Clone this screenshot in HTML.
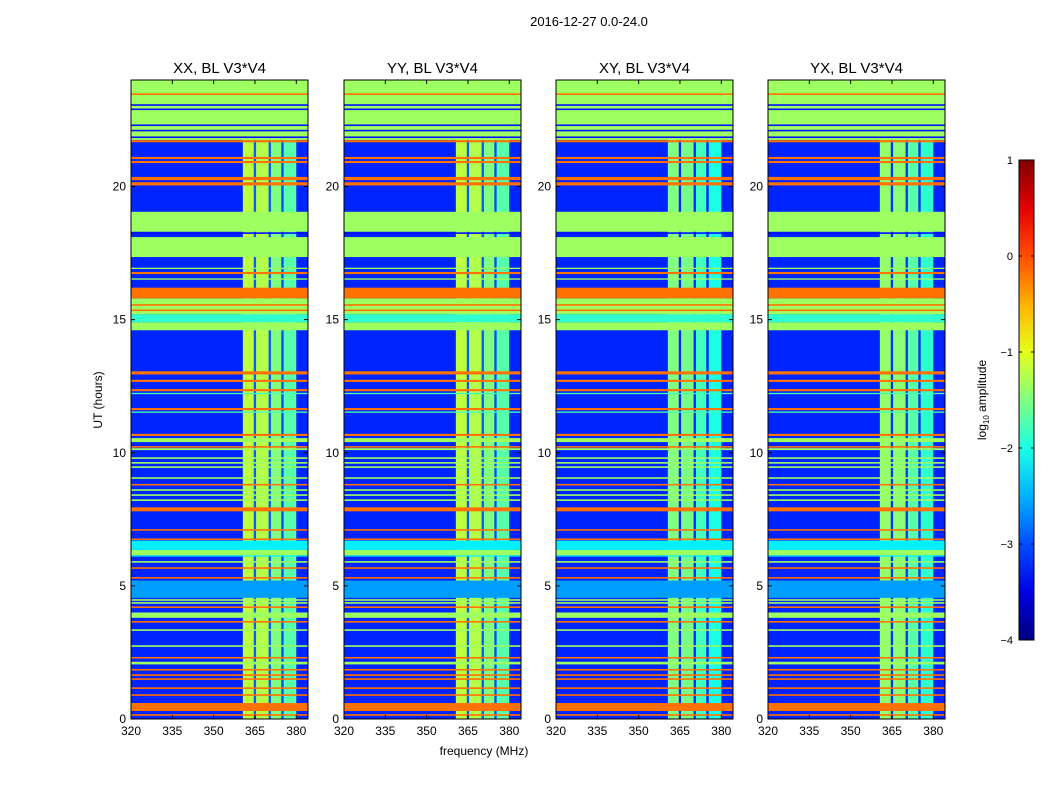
<!DOCTYPE html>
<html><head><meta charset="utf-8"><style>
body{margin:0;background:#fff;}
svg text{font-family:"Liberation Sans",sans-serif;}
</style></head><body>
<svg id="fig" width="1050" height="800" viewBox="0 0 1050 800" xmlns="http://www.w3.org/2000/svg">
<rect width="1050" height="800" fill="#fff"/>
<text x="589" y="26" font-size="13" text-anchor="middle">2016-12-27 0.0-24.0</text>
<text x="484" y="755" font-size="12" text-anchor="middle">frequency (MHz)</text>
<text transform="translate(102,400) rotate(-90)" font-size="12" text-anchor="middle">UT (hours)</text>
<g id="panels"></g>
<g id="cbar"></g>
</svg>
<script>
const panelTitles = ["XX, BL V3*V4","YY, BL V3*V4","XY, BL V3*V4","YX, BL V3*V4"];
const panelLeft = [131,344,556,768];
const xTicks = [320,335,350,365,380];
const yTicks = [0,5,10,15,20];
const cbarTicks = [1,0,-1,-2,-3,-4];
const quietValue = -3.2;
const rfiShift = [0,0,-0.3,-0.2];
// RFI frequency columns [f0,f1,log amplitude]
const rfiCols = [[360.6,364.6,-1.2],[364.6,365.4,-2.9],[365.4,370.0,-1.25],[370.0,370.8,-2.9],[370.8,374.6,-1.5],[374.6,375.4,-3.0],[375.4,380.0,-1.7]];
// time bands [start hour, end hour, log amplitude]
const greenBands = [[21.75,24],[18.3,19.05],[17.35,18.1],[15.2,15.8],[14.6,14.9],[10.4,10.55],[6.15,6.35],[3.8,4.0],[2.05,2.15],
 [10.1,10.17],[9.77,9.83],[9.59,9.65],[9.43,9.49],[9.02,9.08],[8.57,8.63],[8.38,8.44],[8.19,8.25],[5.87,5.93],[4.44,4.5],[4.33,4.39],[3.31,3.37],[2.71,2.77],[16.9,16.95],[16.5,16.55]];
const cyanBands = [[14.9,15.2,-1.9],[6.35,6.7,-2.2],[6.1,6.15,-2.2],[4.55,5.2,-2.6],[12.2,12.25,-1.8],[11.5,11.55,-1.8]];
const blueLines = [[23.03,23.09],[22.87,22.93],[22.27,22.33],[22.07,22.13],[21.82,21.88],[18.22,18.28]];
const orangeBands = [[23.44,23.5],[21.66,21.74],[21.03,21.11],[20.88,20.96],[20.24,20.36],[20.04,20.16],[16.71,16.79],[15.8,16.2],[15.52,15.58],[15.32,15.38],[12.94,13.06],[12.66,12.74],[12.31,12.39],[11.6,11.68],[10.63,10.71],[10.19,10.25],[8.77,8.83],[7.8,7.95],[7.07,7.13],[6.72,6.78],[5.64,5.7],[5.27,5.33],[4.17,4.23],[3.62,3.68],[2.27,2.33],[1.82,1.88],[1.62,1.68],[1.47,1.53],[1.13,1.19],[0.87,0.93],[0.3,0.6],[0.12,0.18]];
const orangeValue = -0.18, greenValue = -1.35, blueLineValue = -3.3;

const NS="http://www.w3.org/2000/svg";
const plotTop=80, plotBottom=719, pw=177, fmin=320, fmax=384.25;
function jet(v){let t=(v+4)/5;t=Math.max(0,Math.min(1,t));
 const c=x=>Math.round(255*Math.max(0,Math.min(1,x)));
 return `rgb(${c(1.5-Math.abs(4*t-3))},${c(1.5-Math.abs(4*t-2))},${c(1.5-Math.abs(4*t-1))})`;}
function yS(h){return plotBottom-(h/24)*(plotBottom-plotTop);}
function mk(tag,attrs,parent){const e=document.createElementNS(NS,tag);for(const k in attrs)e.setAttribute(k,attrs[k]);parent.appendChild(e);return e;}
const panels=document.getElementById('panels');
panelLeft.forEach((L,pi)=>{
 const xS=f=>L+(f-fmin)/(fmax-fmin)*pw;
 const g=mk('g',{},panels);
 
 
 const bg=mk('rect',{x:L,y:plotTop,width:pw,height:plotBottom-plotTop,fill:jet(quietValue)},g);
 
 
 rfiCols.forEach(c=>{const r=mk('rect',{x:xS(c[0]),y:plotTop,width:xS(c[1])-xS(c[0]),height:plotBottom-plotTop,fill:jet(c[2]+rfiShift[pi])},g);
  
  });
 const band=(b,v,name)=>{const r=mk('rect',{x:L,y:yS(b[1]),width:pw,height:Math.max(1,yS(b[0])-yS(b[1])),fill:jet(v)},g);
  
  };
 cyanBands.forEach(b=>band(b,b[2],'cyan-band'));
 greenBands.forEach(b=>band(b,greenValue,'flagged-band'));
 blueLines.forEach(b=>band(b,blueLineValue,'blue-line'));
 orangeBands.forEach(b=>band(b,orangeValue,'orange-band'));
 mk('rect',{x:L,y:plotTop,width:pw,height:plotBottom-plotTop,fill:'none',stroke:'#000','stroke-width':1},g);
 const t=mk('text',{x:L+pw/2,y:73,'font-size':15,'text-anchor':'middle'},g);t.textContent=panelTitles[pi];
 
 
 xTicks.forEach(f=>{const x=xS(f);
  mk('line',{x1:x,x2:x,y1:plotBottom,y2:plotBottom-4,stroke:'#000'},g);
  mk('line',{x1:x,x2:x,y1:plotTop,y2:plotTop+4,stroke:'#000'},g);
  const tx=mk('text',{x:x,y:plotBottom+16,'font-size':12,'text-anchor':'middle'},g);tx.textContent=f;
  
  });
 yTicks.forEach(h=>{const y=yS(h);
  mk('line',{x1:L,x2:L+4,y1:y,y2:y,stroke:'#000'},g);
  mk('line',{x1:L+pw,x2:L+pw-4,y1:y,y2:y,stroke:'#000'},g);
  const ty=mk('text',{x:L-5,y:y+4,'font-size':12,'text-anchor':'end'},g);ty.textContent=h;
  
  });
});
// colorbar
const cb=document.getElementById('cbar');
const cbx=1019,cbw=15,cbTop=160,cbBot=640;
const defs=mk('defs',{},cb);const lg=mk('linearGradient',{id:'jetg',x1:0,y1:1,x2:0,y2:0},defs);
for(let i=0;i<=10;i++){mk('stop',{offset:i/10,'stop-color':jet(-4+i*0.5)},lg);}
mk('rect',{x:cbx,y:cbTop,width:cbw,height:cbBot-cbTop,fill:'url(#jetg)',stroke:'#000'},cb);
cbarTicks.forEach(v=>{const y=cbBot-(v+4)/5*(cbBot-cbTop);
 mk('line',{x1:cbx,x2:cbx+3,y1:y,y2:y,stroke:'#000'},cb);
 mk('line',{x1:cbx+cbw,x2:cbx+cbw-3,y1:y,y2:y,stroke:'#000'},cb);
 const t=mk('text',{x:1013,y:y+4,'font-size':11,'text-anchor':'end'},cb);t.textContent=(v<0?'\u2212'+(-v):v);
 
 });
const cl=mk('text',{transform:'translate(986,400) rotate(-90)','font-size':12,'text-anchor':'middle'},cb);
cl.innerHTML='log<tspan font-size="8" dy="3">10</tspan><tspan dy="-3"> amplitude</tspan>';


</script>
</body></html>
